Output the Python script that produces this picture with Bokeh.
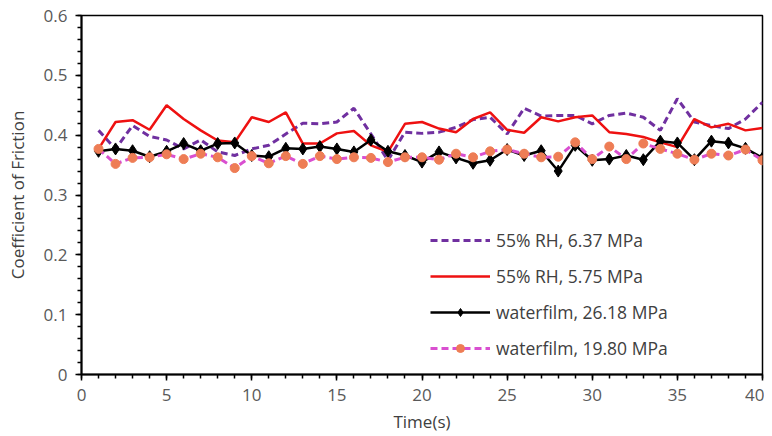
from bokeh.plotting import figure
from bokeh.models import FixedTicker, NumeralTickFormatter, Legend, LegendItem, Range1d
from bokeh.embed import file_html
from bokeh.resources import INLINE

# ---- data ----
time_s = list(range(1, 41))

rh55_637 = [0.408, 0.377, 0.416, 0.398, 0.392, 0.377, 0.392, 0.372, 0.366, 0.377,
            0.383, 0.402, 0.420, 0.419, 0.422, 0.445, 0.402, 0.358, 0.405, 0.403,
            0.405, 0.413, 0.426, 0.430, 0.402, 0.445, 0.432, 0.433, 0.433, 0.419,
            0.433, 0.437, 0.430, 0.408, 0.461, 0.422, 0.416, 0.411, 0.427, 0.455]

rh55_575 = [0.377, 0.422, 0.425, 0.409, 0.450, 0.427, 0.408, 0.391, 0.388, 0.430,
            0.422, 0.438, 0.386, 0.386, 0.403, 0.407, 0.383, 0.372, 0.419, 0.422,
            0.411, 0.405, 0.427, 0.438, 0.409, 0.404, 0.430, 0.423, 0.430, 0.433,
            0.405, 0.402, 0.397, 0.388, 0.380, 0.427, 0.413, 0.419, 0.408, 0.412]

wf_2618 = [0.373, 0.377, 0.374, 0.364, 0.373, 0.386, 0.374, 0.386, 0.387, 0.366,
           0.364, 0.378, 0.377, 0.381, 0.377, 0.372, 0.392, 0.373, 0.366, 0.355,
           0.372, 0.362, 0.353, 0.358, 0.376, 0.366, 0.374, 0.340, 0.383, 0.358,
           0.360, 0.366, 0.359, 0.390, 0.387, 0.359, 0.390, 0.387, 0.378, 0.362]

wf_1980 = [0.377, 0.352, 0.362, 0.363, 0.368, 0.360, 0.369, 0.363, 0.345, 0.365,
           0.353, 0.365, 0.352, 0.365, 0.360, 0.363, 0.362, 0.355, 0.363, 0.363,
           0.359, 0.369, 0.363, 0.373, 0.376, 0.369, 0.363, 0.364, 0.388, 0.360,
           0.381, 0.360, 0.386, 0.377, 0.369, 0.359, 0.369, 0.366, 0.376, 0.358]

labels = ["55% RH, 6.37 MPa", "55% RH, 5.75 MPa",
          "waterfilm, 26.18 MPa", "waterfilm, 19.80 MPa"]

x_major = [0, 5, 10, 15, 20, 25, 30, 35, 40]
x_minor = list(range(0, 41))
y_major = [0, 0.1, 0.2, 0.3, 0.4, 0.5, 0.6]
y_minor = [i / 50 for i in range(0, 31)]

FONT = "Open Sans"

p = figure(width=764, height=436, output_backend="svg", toolbar_location=None,
           x_range=Range1d(0, 40), y_range=Range1d(0, 0.6),
           min_border_left=81, min_border_right=2, min_border_top=15, min_border_bottom=62)

p.xgrid.visible = False
p.ygrid.visible = False
p.outline_line_color = "black"
p.outline_line_width = 1.5
p.background_fill_color = "white"
p.border_fill_color = "white"

r1 = p.line(time_s, rh55_637, line_color="#7030A0", line_width=3, line_dash="7 4")
r2 = p.line(time_s, rh55_575, line_color="#EE1111", line_width=2.5)
r3l = p.line(time_s, wf_2618, line_color="black", line_width=2.5)
r3m = p.scatter(time_s, wf_2618, marker="diamond", size=12, fill_color="black", line_color="black")
r4l = p.line(time_s, wf_1980, line_color="#D94FD0", line_width=3, line_dash="7 4")
r4m = p.scatter(time_s, wf_1980, marker="circle", size=9, fill_color="#EE7D55", line_color="#EE7D55")

legend = Legend(items=[
    LegendItem(label=labels[0], renderers=[r1]),
    LegendItem(label=labels[1], renderers=[r2]),
    LegendItem(label=labels[2], renderers=[r3l, r3m]),
    LegendItem(label=labels[3], renderers=[r4l, r4m]),
], location=(349, 14))
legend.border_line_color = None
legend.background_fill_alpha = 0
legend.padding = 0
legend.margin = 0
legend.spacing = 12
legend.glyph_width = 60
legend.glyph_height = 20
legend.label_height = 20
legend.label_standoff = 6
legend.label_text_font = FONT
legend.label_text_font_size = "17.5px"
legend.label_text_color = "#404040"
p.add_layout(legend, "center")

for ax in (p.xaxis[0], p.yaxis[0]):
    ax.axis_line_color = "black"
    ax.axis_line_width = 2
    ax.major_tick_line_color = "black"
    ax.major_tick_line_width = 1.5
    ax.minor_tick_line_color = "black"
    ax.minor_tick_line_width = 1.5
    ax.major_tick_in = 0
    ax.major_tick_out = 6
    ax.minor_tick_in = 0
    ax.minor_tick_out = 4
    ax.major_label_text_font = FONT
    ax.major_label_text_font_size = "17px"
    ax.major_label_text_color = "#595959"
    ax.axis_label_text_font = FONT
    ax.axis_label_text_font_size = "17px"
    ax.axis_label_text_font_style = "normal"
    ax.axis_label_text_color = "#404040"

p.xaxis.ticker = FixedTicker(ticks=x_major, minor_ticks=x_minor)
p.yaxis.ticker = FixedTicker(ticks=y_major, minor_ticks=y_minor)
p.yaxis.formatter = NumeralTickFormatter(format="0.[0]")
p.xaxis.major_label_standoff = 8
p.yaxis.major_label_standoff = 8
p.xaxis.axis_label = "Time(s)"
p.yaxis.axis_label = "Coefficient of Friction"
p.xaxis.axis_label_standoff = 6
p.yaxis.axis_label_standoff = 12

open("out.html", "w").write(file_html(p, INLINE))
